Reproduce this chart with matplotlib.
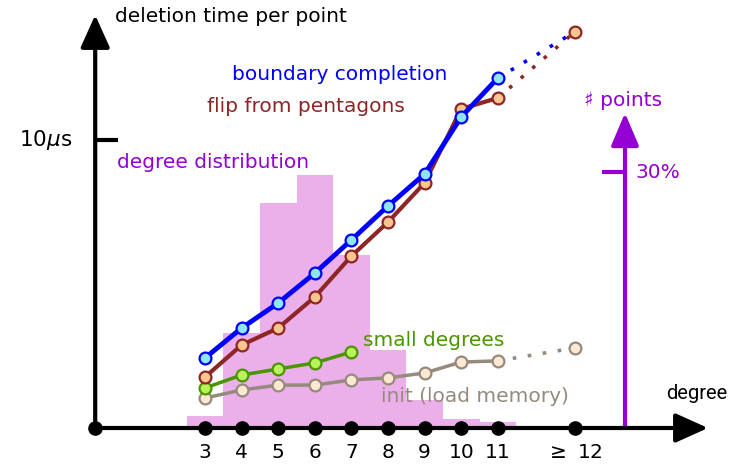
import matplotlib
matplotlib.use("Agg")
import matplotlib.pyplot as plt

# degree positions (>=12 sits a bit further right)
degrees = [3, 4, 5, 6, 7, 8, 9, 10, 11]
pos_12 = 13.1
tick_labels = ["3", "4", "5", "6", "7", "8", "9", "10", "11", r"$\geq$ 12"]

# deletion time per point (microseconds)
boundary = [2.43, 3.47, 4.34, 5.38, 6.53, 7.71, 8.82, 10.8, 12.15]
boundary_12 = 13.75
flip = [1.77, 2.88, 3.47, 4.55, 5.97, 7.15, 8.51, 11.08, 11.46]
flip_12 = 13.75
small = [1.39, 1.84, 2.05, 2.26, 2.64]
init = [1.04, 1.32, 1.49, 1.49, 1.67, 1.74, 1.91, 2.29, 2.33]
init_12 = 2.78

# degree distribution (% of points)
dist_pct = [1.4, 11.1, 26.4, 29.6, 20.3, 9.1, 3.3, 1.05, 0.7]

BLUE = "#0000ff"
BROWN = "#8e2626"
GREEN = "#4a9600"
GRAY = "#968a7e"
PURPLE = "#9400d3"
PINK = "#ebafe9"
FS = 14.5

fig = plt.figure(figsize=(7.3, 4.65), dpi=100)

# pixel mapping: x px = 205 + (d-3)*36.6 ; y px = 428 - us*28.8
xlim = (3 - 205 / 36.6, 3 + (730 - 205) / 36.6)
ylim = ((428 - 465) / 28.8, 428 / 28.8)
pct_per_us = 30 / (256 / 28.8)

axh = fig.add_axes([0, 0, 1, 1])
axh.set_xlim(xlim)
axh.set_ylim(ylim[0] * pct_per_us, ylim[1] * pct_per_us)
axh.axis("off")
axh.bar(degrees, dist_pct, width=1.0, color=PINK, linewidth=0, zorder=1)

# purple percentage axis
px_axis = 3 + (625 - 205) / 36.6
axh.annotate("", xy=(px_axis, (428 - 113) / 256 * 30), xytext=(px_axis, 0),
             arrowprops=dict(arrowstyle="-|>,head_length=20,head_width=8.5",
                             mutation_scale=1, lw=3, color=PURPLE,
                             shrinkA=0, shrinkB=0), zorder=2)
axh.plot([px_axis - 23 / 36.6, px_axis], [30, 30], color=PURPLE, lw=3,
         solid_capstyle="butt", zorder=2)
axh.text(px_axis + 10 / 36.6, 30, "30%", color=PURPLE, fontsize=FS,
         va="center", ha="left")
axh.text(px_axis - 0.05, (428 - 100) / 256 * 30, "\u266f points", color=PURPLE,
         fontsize=FS, va="center", ha="center")

ax = fig.add_axes([0, 0, 1, 1])
ax.set_xlim(xlim)
ax.set_ylim(ylim)
ax.axis("off")
ax.patch.set_alpha(0)

arrow_kw = dict(arrowstyle="-|>,head_length=20,head_width=9",
                mutation_scale=1, lw=3, color="black", shrinkA=0, shrinkB=0)
ax.annotate("", xy=(0, (428 - 15) / 28.8), xytext=(0, 0), arrowprops=arrow_kw)
ax.annotate("", xy=(3 + (708 - 205) / 36.6, 0), xytext=(0, 0), arrowprops=arrow_kw)
ax.plot([0, 23 / 36.6], [10, 10], color="black", lw=3, solid_capstyle="butt")

# dots on the x axis
ax.plot([0] + degrees + [pos_12], [0] * (len(degrees) + 2), "o", color="black",
        markersize=9.5, zorder=5, clip_on=False)
for d, lab in zip(degrees + [pos_12], tick_labels):
    ax.text(d, -0.85, lab, ha="center", va="center", fontsize=FS)


def series(xs, ys, color, face, lw, ms=8.5):
    ax.plot(xs, ys, "-o", color=color, lw=lw, markersize=ms,
            markerfacecolor=face, markeredgecolor=color, markeredgewidth=1.6,
            zorder=4)


# dotted continuations to >= 12
dots = (0, (1, 3.2))
ax.plot([11, pos_12], [boundary[-1], boundary_12], linestyle=dots, color=BLUE,
        lw=2.6, zorder=3)
ax.plot([11, pos_12], [flip[-1], flip_12], linestyle=dots, color=BROWN,
        lw=2.6, zorder=3)
ax.plot([11, pos_12], [init[-1], init_12], linestyle=dots, color=GRAY,
        lw=2.6, zorder=3)

series(degrees, init, GRAY, "#fde8d2", 2.5)
series(degrees[:len(small)], small, GREEN, "#b9f25c", 2.5)
series(degrees, flip, BROWN, "#f9c68f", 3)
series(degrees, boundary, BLUE, "#8ee6ef", 3.5)
series([pos_12], [flip_12], BROWN, "#f9c68f", 3)
series([pos_12], [init_12], GRAY, "#fde8d2", 2.5)


def label(px, py, s, color, **kw):
    ax.text(3 + (px - 205) / 36.6, (428 - py) / 28.8, s, color=color,
            fontsize=FS, va="center", ha="left", **kw)


label(115, 17, "deletion time per point", "black")
label(232, 75, "boundary completion", BLUE)
label(207, 106, "flip from pentagons", BROWN)
label(117, 162, "degree distribution", PURPLE)
label(363, 340, "small degrees", GREEN)
label(381, 396, "init (load memory)", GRAY)
ax.text(3 + (72 - 205) / 36.6, 10, r"10$\mu$s", fontsize=15.5, va="center",
        ha="right")
ax.text(3 + (727 - 205) / 36.6, (428 - 393) / 28.8, "degree", fontsize=14.5,
        va="center", ha="right", family=["Roboto", "DejaVu Sans"])

fig.savefig("out.png", dpi=100)
